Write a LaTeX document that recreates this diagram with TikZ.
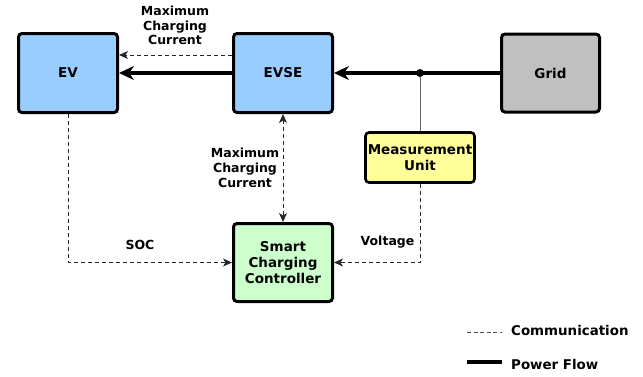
\documentclass[tikz,border=0pt]{standalone}
\usepackage{fontspec}
\setmainfont{DejaVu Sans}
\usetikzlibrary{arrows.meta}
\begin{document}
\begin{tikzpicture}[x=1pt,y=-1pt,
  box/.style={draw=black, line width=3pt, rounded corners=3.5pt, align=center,
    font=\fontsize{13.5}{16}\selectfont\bfseries, inner sep=1pt},
  power/.style={line width=4pt, -{Stealth[length=15pt,width=14pt,inset=5pt]}},
  comm/.style={line width=1pt, dash pattern=on 4pt off 3pt, draw=black!85,
    -{Stealth[length=9pt,width=8pt,inset=2.5pt]}},
  lbl/.style={align=center, font=\fontsize{12.5}{14.7}\selectfont\bfseries, inner sep=0pt},
  dot/.style={circle, fill=black, inner sep=0pt, minimum size=8pt}
]
\useasboundingbox (0,0) rectangle (643,376);
\node[box, fill={rgb,255:red,153;green,204;blue,255}, minimum width=99pt, minimum height=79pt] (EV) at (68,73) {EV};
\node[box, fill={rgb,255:red,153;green,204;blue,255}, minimum width=99pt, minimum height=79pt] (EVSE) at (283,73) {EVSE};
\node[box, fill={rgb,255:red,192;green,192;blue,192}, minimum width=98pt, minimum height=78pt] (Grid) at (550.5,73) {Grid};
\node[box, fill={rgb,255:red,255;green,255;blue,153}, minimum width=109pt, minimum height=50pt, line width=2.6pt] (MU) at (420,157.5) {Measurement\\Unit};
\node[box, fill={rgb,255:red,204;green,255;blue,204}, minimum width=99pt, minimum height=78pt] (SCC) at (283,262.5) {Smart\\Charging\\Controller};
\node[dot] (J) at (420,73) {};

\draw[power] (Grid.west) -- (EVSE.east);
\draw[power] (EVSE.west) -- (EV.east);
\draw[line width=0.9pt, black!60] (J) -- (MU.north);
\draw[comm] ([yshift=18pt]EVSE.west) -- ([yshift=18pt]EV.east);
\draw[comm, {Stealth[length=9pt,width=8pt,inset=2.5pt]}-{Stealth[length=9pt,width=8pt,inset=2.5pt]}] (EVSE.south) -- (SCC.north);
\draw[comm] (EV.south) |- (SCC.west);
\draw[comm] (MU.south) |- (SCC.east);

\node[lbl] (L1) at (175,25.5) {Maximum\\Charging\\Current};
\node[lbl] (L2) at (245,168) {Maximum\\Charging\\Current};
\node[lbl, anchor=base] (L3) at (140,249) {SOC};
\node[lbl, anchor=base] (L4) at (387.5,245) {Voltage};

\coordinate (C1) at (467,332);
\coordinate (C2) at (502,332);
\coordinate (P1) at (467,362);
\coordinate (P2) at (502,362);
\draw[line width=0.9pt, dash pattern=on 4pt off 2.5pt, black!70] (C1) -- (C2);
\draw[line width=4pt] (P1) -- (P2);
\node[anchor=base west, inner sep=0pt, font=\fontsize{13.4}{15}\selectfont\bfseries] (LC) at (511,335) {Communication};
\node[anchor=base west, inner sep=0pt, font=\fontsize{13.4}{15}\selectfont\bfseries] (LP) at (511,369) {Power Flow};
\end{tikzpicture}
\end{document}
